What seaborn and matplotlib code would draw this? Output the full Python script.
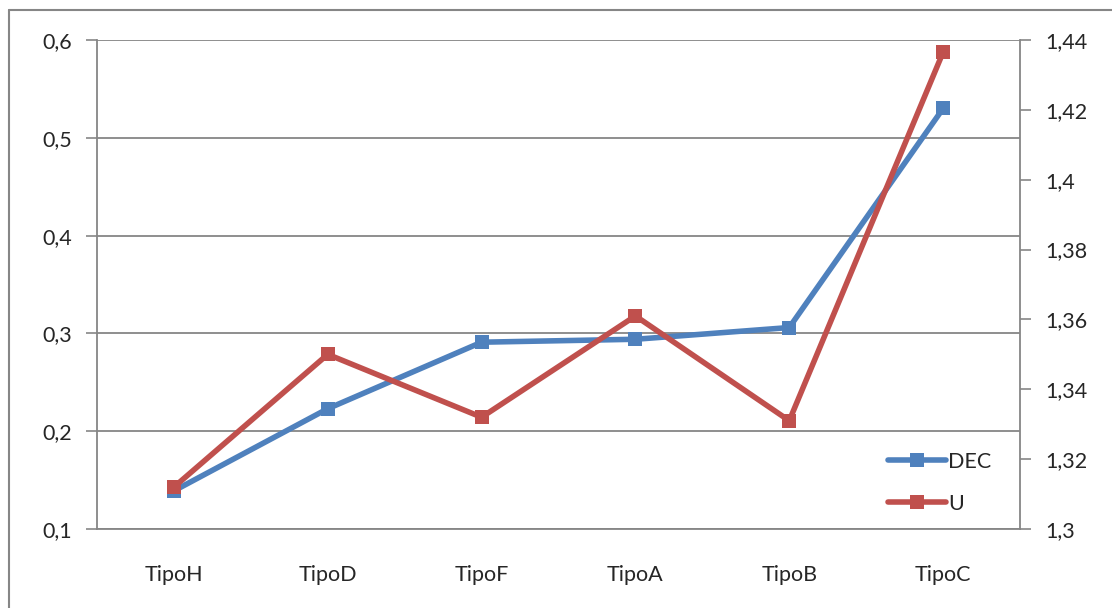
import matplotlib
matplotlib.use("Agg")
import matplotlib.pyplot as plt
import seaborn as sns
import pandas as pd
from matplotlib.ticker import FuncFormatter, FixedLocator
from matplotlib.lines import Line2D

categories = ["TipoH", "TipoD", "TipoF", "TipoA", "TipoB", "TipoC"]
dec_values = [0.139, 0.223, 0.291, 0.294, 0.306, 0.530]
u_values = [1.312, 1.350, 1.332, 1.361, 1.331, 1.4365]
left_ticks = [0.1, 0.2, 0.3, 0.4, 0.5, 0.6]
right_ticks = [1.30, 1.32, 1.34, 1.36, 1.38, 1.40, 1.42, 1.44]

sns.set_style("white")
plt.rcParams["font.family"] = ["Lato", "DejaVu Sans"]

BLUE = "#4F81BD"
RED = "#C0504D"
GRAY = "#868686"
FS = 15.5

df = pd.DataFrame({"cat": categories, "DEC": dec_values, "U": u_values})

fig = plt.figure(figsize=(11.12, 6.08), dpi=100)
ax = fig.add_axes([97/1112, 1-529/608, (1020-97)/1112, (529-40)/608])
ax2 = ax.twinx()

sns.lineplot(data=df, x="cat", y="DEC", ax=ax, color=BLUE, lw=4, marker="s",
             markersize=9.5, markeredgewidth=0, sort=False, label="DEC", legend=False)
sns.lineplot(data=df, x="cat", y="U", ax=ax2, color=RED, lw=4, marker="s",
             markersize=9.5, markeredgewidth=0, sort=False, label="U", legend=False)

ax.set_xlim(-0.5, len(categories) - 0.5)
ax.set_ylim(0.1, 0.6)
ax2.set_ylim(1.3, 1.44)
ax.set_xlabel("")
ax.set_ylabel("")
ax2.set_ylabel("")

def comma(v, pos=None):
    s = f"{v:.2f}".rstrip("0").rstrip(".")
    return s.replace(".", ",")

ax.yaxis.set_major_locator(FixedLocator(left_ticks))
ax.yaxis.set_major_formatter(FuncFormatter(comma))
ax2.yaxis.set_major_locator(FixedLocator(right_ticks))
ax2.yaxis.set_major_formatter(FuncFormatter(comma))

ax.set_xticks(range(len(categories)))
ax.set_xticklabels(categories)
ax.set_xticks([i + 0.5 for i in range(-1, len(categories))], minor=True)
ax.tick_params(axis="x", which="major", length=0, pad=26, labelsize=FS)
ax.tick_params(axis="x", which="minor", length=8, width=1.2, color=GRAY, direction="out")
ax.tick_params(axis="y", length=8, width=1.2, color=GRAY, direction="out", labelsize=FS, pad=10)
ax2.tick_params(axis="y", length=8, width=1.2, color=GRAY, direction="out", labelsize=FS, pad=10)

ax.grid(axis="y", color=GRAY, lw=1.3)
ax.grid(axis="x", visible=False)
ax2.grid(False)
ax.set_axisbelow(True)

for a in (ax, ax2):
    for s in a.spines.values():
        s.set_visible(False)
ax.spines["left"].set_visible(True)
ax.spines["left"].set_color(GRAY)
ax.spines["left"].set_linewidth(1.3)
ax.spines["bottom"].set_visible(True)
ax.spines["bottom"].set_color(GRAY)
ax.spines["bottom"].set_linewidth(1.3)
ax2.spines["right"].set_visible(True)
ax2.spines["right"].set_color(GRAY)
ax2.spines["right"].set_linewidth(1.3)

h1, l1 = ax.get_legend_handles_labels()
h2, l2 = ax2.get_legend_handles_labels()
leg = ax2.legend(h1 + h2, l1 + l2, loc="lower right", bbox_to_anchor=(0.99, -0.008),
                 frameon=False, fontsize=FS, handlelength=2.7, handletextpad=0.1,
                 labelspacing=1.0)

# outer chart frame
fig.add_artist(Line2D([9/1112, 9/1112], [0, 1-10/608], transform=fig.transFigure, color=GRAY, lw=1.5))
fig.add_artist(Line2D([9/1112, 1], [1-10/608, 1-10/608], transform=fig.transFigure, color=GRAY, lw=1.5))

fig.savefig("out.png", dpi=100)
